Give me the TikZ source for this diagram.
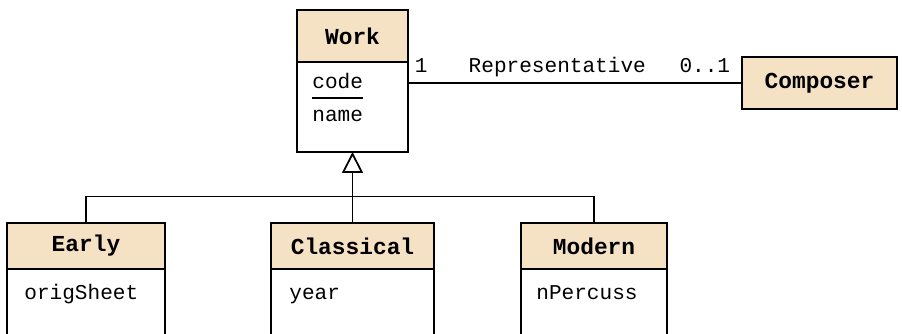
\documentclass[tikz,border=0pt]{standalone}
\usepackage{fontspec}
\newfontfamily\umlfont{Liberation Mono}
\usetikzlibrary{positioning}
\usetikzlibrary{arrows.meta}
\definecolor{headfill}{HTML}{F5E1C4}

\begin{document}
\begin{tikzpicture}[
	classhead/.style={draw, fill=headfill, line width=1pt, outer sep=0pt, inner sep=0pt, font=\umlfont\fontsize{13}{15}\selectfont\bfseries},
	classbody/.style={draw, fill=white, line width=1pt, outer sep=0pt, inner sep=0pt},
	attr/.style={inner sep=0pt, anchor=base west, font=\umlfont\fontsize{12}{14}\selectfont},
	assoc/.style={inner sep=0pt, font=\umlfont\fontsize{12}{14}\selectfont},
	link/.style={line width=1pt},
	inherit/.style={link, -{Triangle[open, length=0.42cm, width=0.42cm]}}
	]

		%canvas
		\useasboundingbox (0,0) rectangle (18.04,6.68);
		\clip (0,0) rectangle (18.04,6.68);

		%superclass
		\node[classhead, minimum width=2.22cm, minimum height=1.04cm] (work) at (7.05,5.96) {Work};
		\node[classbody, minimum width=2.22cm, minimum height=1.80cm, below=0pt of work] (workbody) {};
		\node[attr] (code) at (6.24,4.90) {code};
		\node[attr] (name) at (6.24,4.24) {name};
		\draw[link] ([yshift=-0.18cm]code.base west) -- ([yshift=-0.18cm]code.base east);

		%associated class
		\node[classhead, minimum width=3.10cm, minimum height=1.04cm] (composer) at (16.39,5.02) {Composer};

		%subclasses
		\node[classhead, minimum width=3.16cm, minimum height=0.92cm] (early) at (1.72,1.76) {Early};
		\node[classbody, minimum width=3.16cm, minimum height=1.80cm, below=0pt of early] (earlybody) {};
		\node[classhead, minimum width=3.26cm, minimum height=0.92cm] (classical) at (7.05,1.76) {Classical};
		\node[classbody, minimum width=3.26cm, minimum height=1.80cm, below=0pt of classical] (classicalbody) {};
		\node[classhead, minimum width=2.92cm, minimum height=0.92cm] (modern) at (11.88,1.76) {Modern};
		\node[classbody, minimum width=2.92cm, minimum height=1.80cm, below=0pt of modern] (modernbody) {};
		%subclass attributes
		\node[attr] (origsheet) at (0.48,0.68) {origSheet};
		\node[attr] (year) at (5.78,0.68) {year};
		\node[attr] (npercuss) at (10.72,0.68) {nPercuss};

		%association
		\draw[link] (workbody.east |- composer.west) -- (composer.west)
			node[assoc, anchor=base west, pos=0, xshift=0.12cm, yshift=0.2cm] (multwork) {1}
			node[assoc, anchor=base, pos=0.447, yshift=0.2cm] (rolename) {Representative}
			node[assoc, anchor=base east, pos=1, xshift=-0.22cm, yshift=0.2cm] (multcomposer) {0..1};

		%generalization
		\coordinate (bus) at (7.05,2.75);
		\draw[link] (early.north) |- (bus) -| (modern.north);
		\draw[inherit] (classical.north) -- (workbody.south);

	\end{tikzpicture}
\end{document}
